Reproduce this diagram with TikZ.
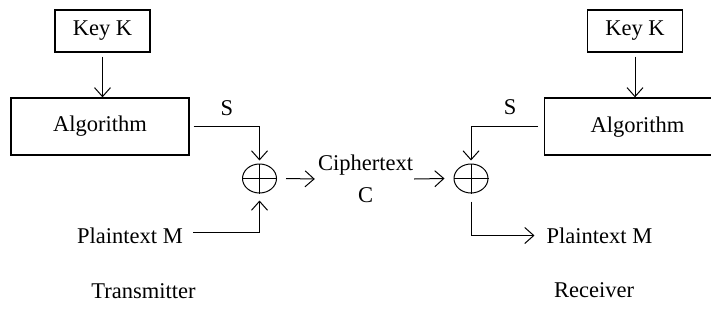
\documentclass[tikz,border=0pt]{standalone}
\usepackage{fontspec}
\setmainfont{Liberation Serif}
\usetikzlibrary{arrows.meta,shapes.geometric}
\tikzset{
  box/.style={draw, line width=1.3pt, inner sep=0pt},
  txt/.style={inner sep=0pt, font=\fontsize{22.5}{27}\selectfont},
  conn/.style={line width=1pt, -{Straight Barb[length=9pt,width=16pt,line width=1pt]}},
  plain/.style={line width=1pt},
  xorop/.style={ellipse, draw, line width=1pt, minimum width=34pt, minimum height=29pt, inner sep=0pt}
}
\begin{document}
\begin{tikzpicture}[x=1pt,y=-1pt]
\useasboundingbox (0,0) rectangle (711,324);
\fill[white] (0,0) rectangle (711,324);
\clip (0,0) rectangle (711,324);
% transmitter
\node[box, txt, minimum width=95pt, minimum height=42pt] (keyL) at (102.5,31) {Key K};
\node[box, txt, minimum width=178pt, minimum height=57pt] (algL) at (100,126.5) {Algorithm};
\node[txt] (sL) at (227,108) {S};
\node[xorop] (x1) at (259.5,178.5) {};
\draw[plain] (x1.north) -- (x1.south) (x1.west) -- (x1.east);
\node[txt] (pmL) at (130,235.5) {Plaintext M};
\node[txt] (tr) at (143.5,291) {Transmitter};
\draw[conn] ([yshift=-4pt]keyL.south) -- (algL.north -| keyL.south);
\draw[conn] ([xshift=4pt]algL.east) -| ([yshift=3pt]x1.north);
\draw[conn] ([xshift=10pt,yshift=3.5pt]pmL.east) -| ([yshift=-7pt]x1.south);
% channel
\node[txt, align=center] (ct) at (365.5,179) {Ciphertext\\[5pt]C};
\draw[conn] ([xshift=9pt]x1.east) -- ([xshift=-3pt]ct.west);
% receiver
\node[box, txt, minimum width=95pt, minimum height=42pt] (keyR) at (635,31) {Key K};
\node[box, minimum width=216pt, minimum height=57pt, anchor=west] (algR) at (544,126.5) {};
\node[txt] (algRt) at (637.5,127) {Algorithm};
\node[txt] (sR) at (510,107) {S};
\node[xorop] (x2) at (471,178.5) {};
\draw[plain] (x2.north) -- (x2.south) (x2.west) -- (x2.east);
\node[txt] (pmR) at (599.5,235.5) {Plaintext M};
\node[txt] (rc) at (594,290) {Receiver};
\draw[conn] ([yshift=-4pt]keyR.south) -- (algR.north -| keyR.south);
\draw[conn] ([xshift=-6pt]algR.west) -| ([yshift=3pt]x2.north);
\draw[conn] ([xshift=1pt]ct.east) -- ([xshift=-9pt]x2.west);
\draw[conn] ([yshift=-8pt]x2.south) |- ([xshift=-12pt]pmR.west);
\end{tikzpicture}
\end{document}
